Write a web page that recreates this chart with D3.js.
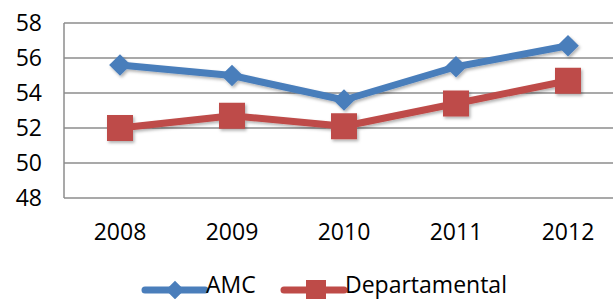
<!DOCTYPE html>
<html>
<head>
<meta charset="utf-8">
<script src="https://cdn.jsdelivr.net/npm/d3@7"></script>
<style>
  body { margin: 0; background: #fff; }
  text { font-family: "Open Sans", sans-serif; fill: #000; }
</style>
</head>
<body>
<svg id="chart" width="613" height="299"></svg>
<script>
const years = ["2008", "2009", "2010", "2011", "2012"];
const amc = [55.6, 55.0, 53.6, 55.5, 56.7];
const departamental = [52.0, 52.7, 52.1, 53.4, 54.7];
const yTicks = [48, 50, 52, 54, 56, 58];

const svg = d3.select("#chart");
const margin = { top: 23, left: 64, bottom: 102 };
const plotW = 560, plotH = 175;

const x = d3.scaleBand().domain(years).range([margin.left, margin.left + plotW]);
const y = d3.scaleLinear().domain([48, 58]).range([margin.top + plotH, margin.top]);

const defs = svg.append("defs");
const f = defs.append("filter").attr("id", "shadow").attr("x", "-20%").attr("y", "-20%").attr("width", "140%").attr("height", "160%");
f.append("feDropShadow").attr("dx", 1.5).attr("dy", 2).attr("stdDeviation", 1.5).attr("flood-color", "#000").attr("flood-opacity", 0.3);

// gridlines
svg.append("g").selectAll("line")
  .data(yTicks)
  .enter().append("line")
  .attr("x1", margin.left).attr("x2", margin.left + plotW)
  .attr("y1", d => y(d)).attr("y2", d => y(d))
  .attr("stroke", "#8c8c8c").attr("stroke-width", 1.5);

// left axis line
svg.append("line")
  .attr("x1", margin.left).attr("x2", margin.left)
  .attr("y1", y(58)).attr("y2", y(48))
  .attr("stroke", "#8c8c8c").attr("stroke-width", 1.5);

// y labels
svg.append("g").selectAll("text")
  .data(yTicks)
  .enter().append("text")
  .attr("x", 42).attr("y", d => y(d) + 8)
  .attr("text-anchor", "end")
  .style("font-size", "23px")
  .text(d => d);

// x labels
svg.append("g").selectAll("text")
  .data(years)
  .enter().append("text")
  .attr("x", d => x(d) + x.bandwidth() / 2)
  .attr("y", 240)
  .attr("text-anchor", "middle")
  .style("font-size", "23px")
  .text(d => d);

const cx = d => x(d) + x.bandwidth() / 2;
const line = d3.line().x((d, i) => cx(years[i])).y(d => y(d));

const series = [
  { name: "AMC", values: amc, color: "#4a7ebb", shape: "diamond" },
  { name: "Departamental", values: departamental, color: "#be4b48", shape: "square" }
];

function marker(g, shape, color, px, py) {
  if (shape === "diamond") {
    g.append("path")
      .attr("d", d3.symbol().type(d3.symbolDiamond2).size(300)())
      .attr("transform", `translate(${px},${py})`)
      .attr("fill", color);
  } else {
    g.append("rect")
      .attr("x", px - 13).attr("y", py - 13)
      .attr("width", 26).attr("height", 26)
      .attr("fill", color);
  }
}

series.forEach(s => {
  const g = svg.append("g").attr("filter", "url(#shadow)");
  g.append("path")
    .datum(s.values)
    .attr("d", line)
    .attr("fill", "none")
    .attr("stroke", s.color)
    .attr("stroke-width", 7)
    .attr("stroke-linejoin", "round");
  s.values.forEach((v, i) => marker(g, s.shape, s.color, cx(years[i]), y(v)));
});

// legend
const legendItems = [
  { x: 145, textX: 206 },
  { x: 284, textX: 345 }
];
series.forEach((s, i) => {
  const lx = legendItems[i].x, ly = 290;
  const g = svg.append("g");
  g.append("line")
    .attr("x1", lx).attr("x2", lx + 60)
    .attr("y1", ly).attr("y2", ly)
    .attr("stroke", s.color).attr("stroke-width", 7)
    .attr("stroke-linecap", "round");
  if (s.shape === "diamond") {
    g.append("path")
      .attr("d", d3.symbol().type(d3.symbolDiamond2).size(220)())
      .attr("transform", `translate(${lx + 30},${ly})`)
      .attr("fill", s.color);
  } else {
    g.append("rect")
      .attr("x", lx + 22).attr("y", ly - 10)
      .attr("width", 20).attr("height", 20)
      .attr("fill", s.color);
  }
  g.append("text")
    .attr("x", legendItems[i].textX).attr("y", 293)
    .style("font-size", "23px")
    .text(s.name);
});
</script>
</body>
</html>
